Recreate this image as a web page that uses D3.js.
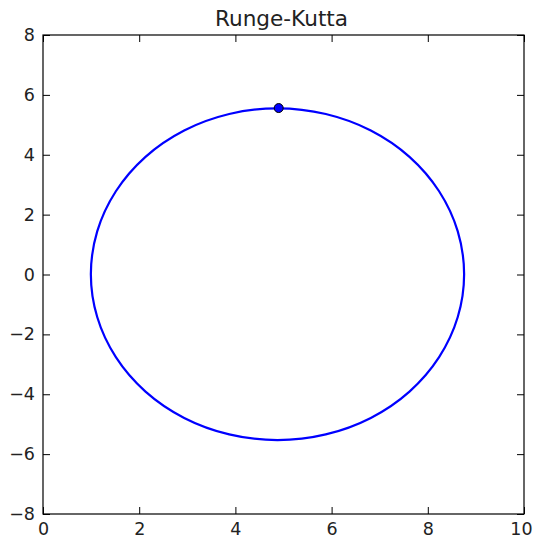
<!DOCTYPE html>
<html>
<head>
<meta charset="utf-8">
<script src="https://cdn.jsdelivr.net/npm/d3@7"></script>
<style>
  html, body { margin: 0; padding: 0; background: #fff; }
  svg { display: block; font-family: "DejaVu Sans", sans-serif; }
</style>
</head>
<body>
<svg id="chart" width="533" height="548"></svg>
<script>
// Orbit trajectory (x, y) sampled around the closed path
const orbitX = [8.755, 8.623, 8.235, 7.619, 6.815, 5.879, 4.875, 3.871, 2.935, 2.131, 1.515, 1.127,
                0.995, 1.127, 1.515, 2.131, 2.935, 3.871, 4.875, 5.879, 6.815, 7.619, 8.235, 8.623];
const orbitY = [0.01, 1.44, 2.78, 3.93, 4.81, 5.36, 5.55, 5.36, 4.81, 3.93, 2.78, 1.44,
                0.01, -1.42, -2.76, -3.91, -4.79, -5.34, -5.53, -5.34, -4.79, -3.91, -2.76, -1.42];
// Current body position
const bodyX = [4.9];
const bodyY = [5.56];

const xTicks = [0, 2, 4, 6, 8, 10];
const yTicks = [-8, -6, -4, -2, 0, 2, 4, 6, 8];
const title = "Runge-Kutta";

const svg = d3.select("#chart");
const mLeft = 43, mRight = 524, mTop = 35, mBottom = 514;

const x = d3.scaleLinear().domain([0, 10]).range([mLeft, mRight]);
const y = d3.scaleLinear().domain([-8, 8]).range([mBottom, mTop]);

const tickLen = 7;
const fontSize = 17.5;
const fmt = d => String(d).replace("-", "\u2212");

// Axes with inward ticks on all four sides
const gB = svg.append("g").attr("transform", `translate(0,${mBottom})`)
  .call(d3.axisBottom(x).tickValues(xTicks).tickSizeInner(-tickLen).tickSizeOuter(0).tickPadding(9).tickFormat(fmt));
const gT = svg.append("g").attr("transform", `translate(0,${mTop})`)
  .call(d3.axisTop(x).tickValues(xTicks).tickSizeInner(-tickLen).tickSizeOuter(0).tickFormat(""));
const gL = svg.append("g").attr("transform", `translate(${mLeft},0)`)
  .call(d3.axisLeft(y).tickValues(yTicks).tickSizeInner(-tickLen).tickSizeOuter(0).tickPadding(8).tickFormat(fmt));
const gR = svg.append("g").attr("transform", `translate(${mRight},0)`)
  .call(d3.axisRight(y).tickValues(yTicks).tickSizeInner(-tickLen).tickSizeOuter(0).tickFormat(""));

[gB, gT, gL, gR].forEach(g => {
  g.select(".domain").remove();
  g.selectAll(".tick line").attr("stroke", "#000").attr("stroke-width", 1);
  g.selectAll(".tick text").attr("fill", "#222").style("font-size", fontSize + "px")
    .style("font-family", "'DejaVu Sans', sans-serif");
});
// keep the last x label inside the page edge
gB.selectAll(".tick text").filter(d => d === xTicks[xTicks.length - 1]).attr("dx", -3);

// Frame
svg.append("rect")
  .attr("x", mLeft).attr("y", mTop)
  .attr("width", mRight - mLeft).attr("height", mBottom - mTop)
  .attr("fill", "none").attr("stroke", "#000").attr("stroke-width", 1.2);

// Orbit path
const pts = orbitX.map((d, i) => [d, orbitY[i]]);
svg.append("path")
  .datum(pts)
  .attr("fill", "none")
  .attr("stroke", "#0000ff")
  .attr("stroke-width", 2.2)
  .attr("d", d3.line().x(d => x(d[0])).y(d => y(d[1])).curve(d3.curveCatmullRomClosed.alpha(0.5)));

// Body marker
svg.selectAll("circle.body")
  .data(bodyX.map((d, i) => [d, bodyY[i]]))
  .join("circle")
  .attr("class", "body")
  .attr("cx", d => x(d[0])).attr("cy", d => y(d[1]))
  .attr("r", 4.5)
  .attr("fill", "#0000ff").attr("stroke", "#000").attr("stroke-width", 1);

// Title
svg.append("text")
  .attr("x", (mLeft + mRight) / 2 - 2).attr("y", 26)
  .attr("text-anchor", "middle")
  .style("font-size", "21.6px")
  .attr("fill", "#222")
  .text(title);
</script>
</body>
</html>
